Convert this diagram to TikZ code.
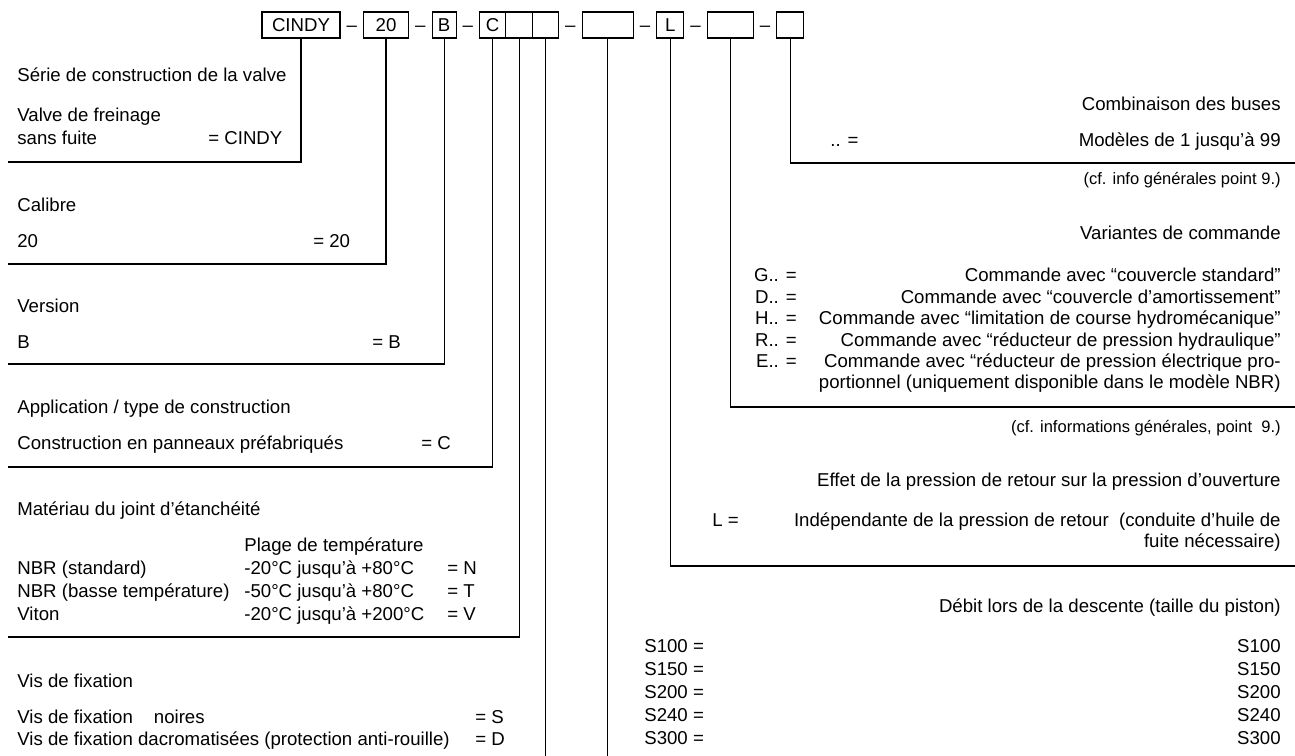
\documentclass[tikz,border=0pt]{standalone}
\usepackage{fontspec}
\setmainfont{Liberation Sans}
\usetikzlibrary{positioning}

\newcommand{\bodyfont}{\fontsize{10.6}{13}\selectfont}
\newcommand{\notefont}{\fontsize{9.4}{11}\selectfont}

\begin{document}
\begin{tikzpicture}[
  x=0.02cm, y=-0.02cm,
  cell/.style={rectangle, draw, line width=0.65pt, minimum height=0.52cm, inner sep=0pt, outer sep=0pt, font=\bodyfont},
  hyph/.style={inner sep=0pt, text height=7.6pt, text depth=0pt, font=\bodyfont},
  lbl/.style={inner sep=0pt, anchor=base west, font=\bodyfont},
  rlbl/.style={inner sep=0pt, anchor=base east, font=\bodyfont},
  note/.style={inner sep=0pt, anchor=base east, font=\notefont},
  link/.style={draw, line width=0.65pt}
]
\useasboundingbox (0,0) rectangle (1295,756);

% Code de commande
\node[cell, minimum width=1.56cm, anchor=west] (cindy) at (262,25) {CINDY};
\node[hyph, right=0.125cm of cindy] (h1) {–};
\node[cell, minimum width=0.9cm, right=0.125cm of h1] (cal) {20};
\node[hyph, right=0.125cm of cal] (h2) {–};
\node[cell, minimum width=0.48cm, right=0.125cm of h2] (ver) {B};
\node[hyph, right=0.125cm of ver] (h3) {–};
\node[cell, minimum width=0.52cm, right=0.125cm of h3] (app) {C};
\node[cell, minimum width=0.54cm, right=0pt of app] (joint) {};
\node[cell, minimum width=0.52cm, right=0pt of joint] (vis) {};
\node[hyph, right=0.125cm of vis] (h4) {–};
\node[cell, minimum width=1.02cm, right=0.125cm of h4] (debit) {};
\node[hyph, right=0.125cm of debit] (h5) {–};
\node[cell, minimum width=0.54cm, right=0.125cm of h5] (eff) {L};
\node[hyph, right=0.125cm of eff] (h6) {–};
\node[cell, minimum width=0.92cm, right=0.125cm of h6] (var) {};
\node[hyph, right=0.125cm of var] (h7) {–};
\node[cell, minimum width=0.54cm, right=0.125cm of h7] (comb) {};

% Partie gauche
\node[lbl] (serie-title) at (17,82) {Série de construction de la valve};
\node[lbl] (serie-l1) at (17,122) {Valve de freinage};
\node[lbl] (serie-l2) at (17,145) {sans fuite};
\node[lbl] (serie-val) at (208,145) {= CINDY};

\node[lbl] (cal-title) at (17,212) {Calibre};
\node[lbl] (cal-l1) at (17,248) {20};
\node[lbl] (cal-val) at (313,248) {= 20};

\node[lbl] (ver-title) at (17,313) {Version};
\node[lbl] (ver-l1) at (17,349) {B};
\node[lbl] (ver-val) at (372,349) {= B};

\node[lbl] (app-title) at (17,414) {Application / type de construction};
\node[lbl] (app-l1) at (17,450) {Construction en panneaux préfabriqués};
\node[lbl] (app-val) at (421,450) {= C};

\node[lbl] (joint-title) at (17,516) {Matériau du joint d’étanchéité};
\node[lbl] (joint-head) at (244,552) {Plage de température};
\node[lbl] (joint-l1) at (17,575) {NBR (standard)};
\node[lbl] (joint-t1) at (244,575) {-20°C jusqu’à +80°C};
\node[lbl] (joint-v1) at (447,575) {= N};
\node[lbl] (joint-l2) at (17,598) {NBR (basse température)};
\node[lbl] (joint-t2) at (244,598) {-50°C jusqu’à +80°C};
\node[lbl] (joint-v2) at (447,598) {= T};
\node[lbl] (joint-l3) at (17,621) {Viton};
\node[lbl] (joint-t3) at (244,621) {-20°C jusqu’à +200°C};
\node[lbl] (joint-v3) at (447,621) {= V};

\node[lbl] (vis-title) at (17,687) {Vis de fixation};
\node[lbl] (vis-l1) at (17,723) {Vis de fixation\hspace{0.42cm}noires};
\node[lbl] (vis-v1) at (475,723) {= S};
\node[lbl] (vis-l2) at (17,745) {Vis de fixation dacromatisées (protection anti-rouille)};
\node[lbl] (vis-v2) at (475,745) {= D};

% Partie droite
\node[rlbl] (comb-title) at (1281,111) {Combinaison des buses};
\node[lbl] (comb-key) at (830,147) {.. =};
\node[rlbl] (comb-l1) at (1281,147) {Modèles de 1 jusqu’à 99};
\node[note] (comb-note) at (1281,185) {(cf. info générales point 9.)};

\node[rlbl] (var-title) at (1281,240) {Variantes de commande};
\node[rlbl] (var-k1) at (797,282) {G.. =};
\node[rlbl] (var-l1) at (1281,282) {Commande avec “couvercle standard”};
\node[rlbl] (var-k2) at (797,304) {D.. =};
\node[rlbl] (var-l2) at (1281,304) {Commande avec “couvercle d’amortissement”};
\node[rlbl] (var-k3) at (797,325) {H.. =};
\node[rlbl] (var-l3) at (1281,325) {Commande avec “limitation de course hydromécanique”};
\node[rlbl] (var-k4) at (797,347) {R.. =};
\node[rlbl] (var-l4) at (1281,347) {Commande avec “réducteur de pression hydraulique”};
\node[rlbl] (var-k5) at (797,368) {E.. =};
\node[rlbl] (var-l5) at (1281,368) {Commande avec “réducteur de pression électrique pro-};
\node[rlbl] (var-l6) at (1281,389) {portionnel (uniquement disponible dans le modèle NBR)};
\node[note] (var-note) at (1281,433) {(cf. informations générales, point\ \ 9.)};

\node[rlbl] (eff-title) at (1281,487) {Effet de la pression de retour sur la pression d’ouverture};
\node[lbl] (eff-key) at (712,527) {L =};
\node[rlbl] (eff-l1) at (1281,527) {Indépendante de la pression de retour\ \ (conduite d’huile de};
\node[rlbl] (eff-l2) at (1281,548) {fuite nécessaire)};

\node[rlbl] (debit-title) at (1281,612) {Débit lors de la descente (taille du piston)};
\node[lbl] (debit-k1) at (644,652) {S100 =};
\node[rlbl] (debit-l1) at (1281,652) {S100};
\node[lbl] (debit-k2) at (644,675) {S150 =};
\node[rlbl] (debit-l2) at (1281,675) {S150};
\node[lbl] (debit-k3) at (644,698) {S200 =};
\node[rlbl] (debit-l3) at (1281,698) {S200};
\node[lbl] (debit-k4) at (644,721) {S240 =};
\node[rlbl] (debit-l4) at (1281,721) {S240};
\node[lbl] (debit-k5) at (644,744) {S300 =};
\node[rlbl] (debit-l5) at (1281,744) {S300};

% Liaisons
\coordinate (serie-end) at (8,162);
\coordinate (cal-end) at (8,264);
\coordinate (ver-end) at (8,364);
\coordinate (app-end) at (8,467);
\coordinate (joint-end) at (8,637);
\coordinate (vis-end) at (vis.south |- 0,756);
\coordinate (debit-end) at (debit.south |- 0,756);
\coordinate (eff-end) at (1295,566);
\coordinate (var-end) at (1295,407);
\coordinate (comb-end) at (1295,163);

\draw[link] (cindy.south) |- (serie-end);
\draw[link] (cal.south) |- (cal-end);
\draw[link] (ver.south) |- (ver-end);
\draw[link] (app.south) |- (app-end);
\draw[link] (joint.south) |- (joint-end);
\draw[link] (vis.south) -- (vis-end);
\draw[link] (debit.south) -- (debit-end);
\draw[link] (eff.south) |- (eff-end);
\draw[link] (var.south) |- (var-end);
\draw[link] (comb.south) |- (comb-end);
\end{tikzpicture}
\end{document}
